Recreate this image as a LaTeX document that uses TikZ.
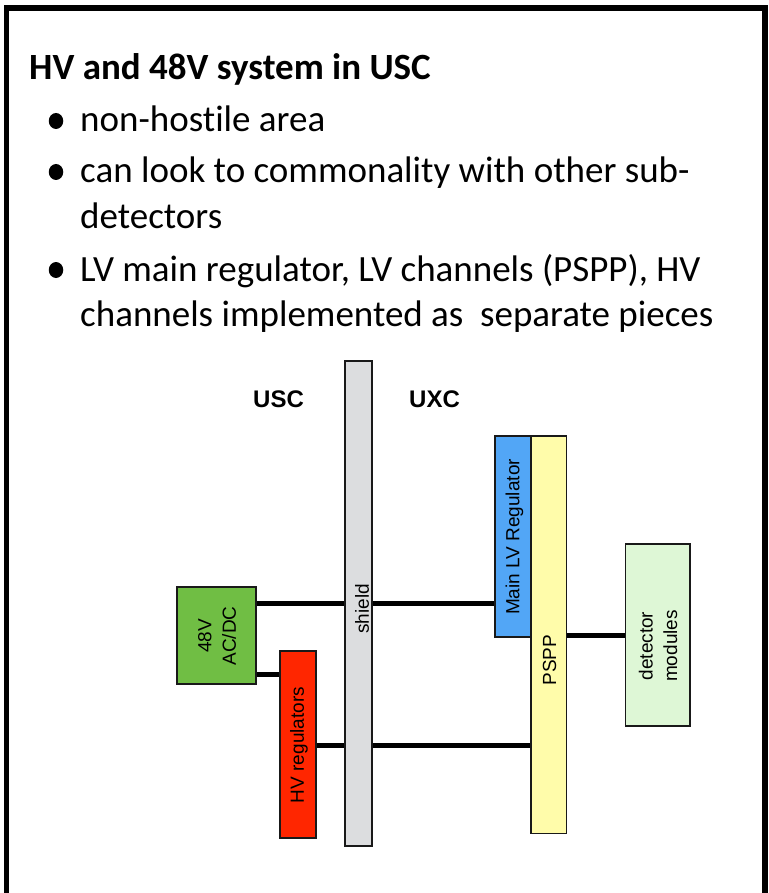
\documentclass[tikz,border=0pt]{standalone}
\usepackage{fontspec}
\setmainfont{Carlito}[Ligatures=NoCommon]
\newfontfamily\diagfont{Liberation Sans}
\usetikzlibrary{backgrounds,shapes.geometric}

\definecolor{acdcgreen}{RGB}{112,190,68}
\definecolor{hvred}{RGB}{255,38,0}
\definecolor{lvblue}{RGB}{82,166,246}
\definecolor{psppyellow}{RGB}{255,252,170}
\definecolor{detgreen}{RGB}{222,247,214}
\definecolor{shieldgray}{RGB}{220,221,223}

\begin{document}
\begin{tikzpicture}[x=1pt,y=-1pt,
  body/.style={anchor=base west, inner sep=0, font=\fontsize{37}{44}\selectfont},
  dot/.style={ellipse, fill=black, inner sep=0, minimum width=14.5, minimum height=16},
  box/.style={rectangle, draw=black!90, line width=1.2pt, inner sep=0},
  lbl/.style={rotate=90, inner sep=0, align=center, font=\diagfont\fontsize{19}{24.5}\selectfont},
  zone/.style={anchor=base west, inner sep=0, font=\diagfont\bfseries\fontsize{24}{28}\selectfont},
  wire/.style={line width=5pt, black}]
\useasboundingbox (0,0) rectangle (768,893);
\clip (0,0) rectangle (768,893);

% slide frame, open at the bottom
\draw[line width=5.5pt] (6.3,905) -- (6.3,8) -- (765,8) -- (765,905);

% heading and bullet list
\node[anchor=base west, inner sep=0, font=\bfseries\fontsize{37}{44}\selectfont] (title) at (29,80) {HV and 48V system in USC};
\node[dot] (d1) at (56,121) {};
\node[body] (b1) at (80,132) {non-hostile area};
\node[dot] (d2) at (56,172) {};
\node[body] (b2) at (80,183) {can look to commonality with other sub-};
\node[body] (b2b) at (80,229) {detectors};
\node[dot] (d3) at (56,270) {};
\node[body] (b3) at (80,281) {LV main regulator, LV channels (PSPP), HV};
\node[body] (b3b) at (80,326) {channels implemented as~~separate pieces};

% zone labels
\node[zone] (usc) at (253,407) {USC};
\node[zone] (uxc) at (409,407) {UXC};

% blocks
\node[box, fill=shieldgray, minimum width=27, minimum height=485] (shield) at (358.5,603.5) {};
\node[box, fill=acdcgreen, minimum width=79, minimum height=97] (acdc) at (216.5,635.5) {};
\node[box, fill=hvred, minimum width=36, minimum height=187] (hvreg) at (298,744.5) {};
\node[box, fill=lvblue, minimum width=36, minimum height=201] (mainlv) at (513,536.5) {};
\node[box, fill=psppyellow, minimum width=35.5, minimum height=397.5] (pspp) at (548.75,634.75) {};
\node[box, fill=detgreen, minimum width=64.5, minimum height=182] (det) at (657.75,635) {};

% block texts
\node[lbl] (shieldtxt) at (362,609) {shield};
\node[lbl] (acdctxt) at (217,636) {48V\\AC/DC};
\node[lbl] (hvregtxt) at (299,745) {HV regulators};
\node[lbl] (mainlvtxt) at (514.5,537) {Main LV Regulator};
\node[lbl] (pspptxt) at (549.5,660) {PSPP};
\node[lbl] (dettxt) at (658,646) {detector\\modules};

% cable heights
\coordinate (w1) at (0,603);
\coordinate (w2) at (0,674);
\coordinate (w3) at (0,745);
\coordinate (w4) at (0,635);

% cables, passing behind the shield
\begin{pgfonlayer}{background}
\draw[wire] (acdc.east |- w1) -- (mainlv.west |- w1);
\draw[wire] (acdc.east |- w2) -- (hvreg.west |- w2);
\draw[wire] (hvreg.east |- w3) -- (pspp.west |- w3);
\draw[wire] (pspp.east |- w4) -- (det.west |- w4);
\end{pgfonlayer}
\end{tikzpicture}
\end{document}
